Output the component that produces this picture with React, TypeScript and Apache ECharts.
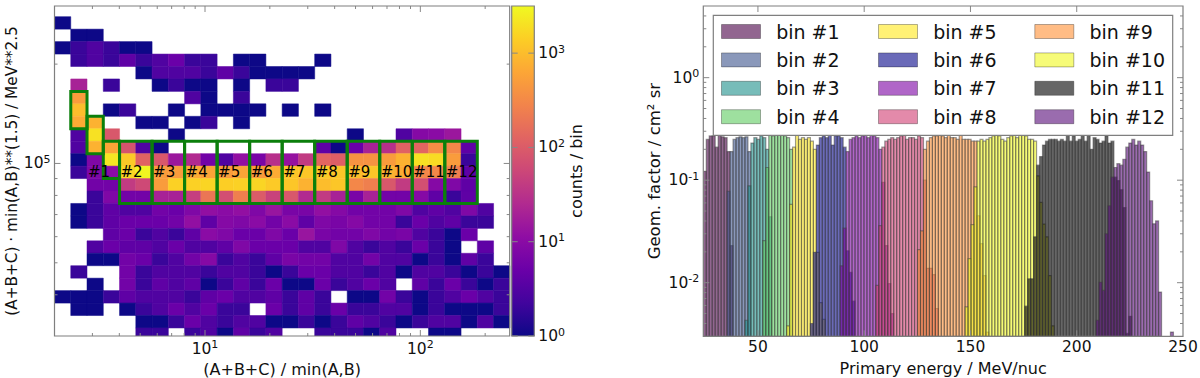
import React, { useEffect, useRef } from "react";
import * as echarts from "echarts";

// ---------- left panel: 2-D histogram counts (row = top to bottom, column = left to right) ----------
const r1 = [1,0,0,0,0,0,0,0,0,0,0,0,0,0,0,0,0,0,0,0,0,0,0,0,0,0,0,0];
const r2 = [0,1,1,0,0,0,0,0,0,0,0,0,0,0,0,0,0,0,0,0,0,0,0,0,0,0,0,0];
const r3 = [1,2,3,2,1,1,0,0,0,0,0,0,0,0,0,0,0,0,0,0,0,0,0,0,0,0,0,0];
const r4 = [0,2,3,2,4,2,3,5,2,2,0,1,1,0,0,0,1,0,0,0,0,0,0,0,0,0,0,0];
const r5 = [0,0,0,0,0,1,3,3,3,2,4,2,1,1,1,1,0,0,0,0,0,0,0,0,0,0,0,0];
const r6 = [0,20,0,2,0,0,1,2,1,1,0,1,0,2,2,0,0,0,0,0,0,0,0,0,0,0,0,0];
const r7 = [0,500,0,0,0,0,0,0,3,1,0,2,0,0,0,0,0,0,0,0,0,0,0,0,0,0,0,0];
const r8 = [0,1000,0,1,2,0,0,1,0,1,1,1,1,0,1,0,1,0,0,0,0,0,0,0,0,0,0,0];
const r9 = [0,700,800,0,0,1,1,0,1,2,0,1,0,0,0,0,0,0,0,0,0,0,0,0,0,0,0,0];
const r10 = [0,3,2000,90,0,0,0,1,0,0,0,0,0,0,0,0,0,0,1,0,0,3,9,10,15,0,0,0];
const r11 = [0,3,800,600,80,3,1,0,0,0,0,0,0,0,0,0,4,1,5,20,30,120,130,350,300,4,0,0];
const r12 = [0,1,8,2200,1300,120,90,15,25,6,3,12,7,30,13,40,130,110,400,400,500,800,2000,1800,500,2,0,0];
const r13 = [0,2,8,10,1600,3000,500,500,700,600,500,600,500,700,1200,1200,1300,1200,1000,1200,800,700,300,300,250,4,0,0];
const r14 = [0,0,6,6,40,60,500,1500,1500,1600,1400,1500,1600,1300,1200,800,1000,1200,300,250,90,40,70,9,8,4,0,0];
const r15 = [0,0,2,8,6,6,20,20,45,200,70,250,100,50,90,25,40,20,7,20,6,6,9,4,2,4,0,0];
const r16 = [0,1,2,4,3,3,6,5,8,12,10,12,8,14,7,7,12,9,6,6,6,8,3,4,3,8,3,0];
const r17 = [0,1,2,4,5,5,5,6,12,4,9,8,10,6,10,4,8,7,9,6,6,2,5,3,4,2,2,0];
const r18 = [0,0,0,4,5,2,3,2,4,10,8,5,5,8,5,14,7,6,6,8,6,7,3,2,1,5,0,0];
const r19 = [0,0,3,5,4,4,3,5,3,3,4,8,5,5,5,3,3,8,3,2,3,2,5,2,1,0,4,0];
const r20 = [0,0,1,1,6,5,2,3,6,9,2,3,2,4,7,6,6,3,3,6,3,3,1,2,1,4,2,0];
const r21 = [0,2,0,0,6,2,3,3,3,2,3,3,2,1,2,5,5,3,3,2,3,1,3,3,2,1,2,1];
const r22 = [0,0,1,0,6,2,4,3,4,1,2,4,2,5,1,1,5,2,3,5,3,0,4,2,5,2,1,2];
const r23 = [1,1,1,2,4,3,3,3,2,4,5,3,3,4,2,4,2,0,1,1,6,2,1,2,3,5,3,2];
const r24 = [0,1,1,0,1,2,3,5,3,5,2,2,0,5,2,4,2,5,2,2,3,3,1,2,1,1,1,2];
const r25 = [0,0,0,0,0,1,1,2,5,3,2,3,3,1,1,2,1,2,4,3,2,1,2,3,3,1,3,1];
const r26 = [0,0,0,0,0,2,2,0,2,3,1,4,2,3,0,0,2,2,2,1,3,0,0,1,1,0,0,0];
const countRows = [r1,r2,r3,r4,r5,r6,r7,r8,r9,r10,r11,r12,r13,r14,r15,r16,r17,r18,r19,r20,r21,r22,r23,r24,r25,r26];

// Selection boxes in histogram bin indices: [firstCol, lastColExclusive, firstRow, lastRowExclusive]
const boxes = [
  [1,2,6,9],[2,3,8,11],[3,4,10,13],
  [4,6,10,15],[6,8,10,15],[8,10,10,15],[10,12,10,15],[12,14,10,15],[14,16,10,15],
  [16,18,10,15],[18,20,10,15],[20,22,10,15],[22,24,10,15],[24,26,10,15],
];
const boxLabels = ["#1","#2","#3","#4","#5","#6","#7","#8","#9","#10","#11","#12"];
const boxLabelCols = [2,4,6,8,10,12,14,16,18,20,22,24];

// ---------- right panel: geometric factor per energy bin ----------
const bin1 = [.122,.25,.27,.27,.21,.285,.265,.26,.19,.023];
const bin2 = [.078,.19,.25,.26,.265,.26,.265,.19];
const bin3 = [.0043,.088,.23,.26,.25,.27,.26,.2,.044];
const bin4 = [.0257,.133,.28,.27,.29,.28,.29,.27,.26,.2];
const bin5 = [.0038,.058,.21,.29,.25,.26,.25,.26,.24,.2,.0198,.0064,.0044];
const bin6 = [.004,.0198,.22,.26,.27,.26,.28,.22,.27,.27,.26,.21,.0205,.0126,.0066];
const bin7 = [.0146,.034,.19,.25,.26,.27,.26,.27,.28,.26,.28,.27,.26,.2,.095,.023,.0098,.005];
const bin8 = [.0094,.036,.21,.24,.25,.26,.25,.26,.27,.29,.25,.26,.26,.25,.27,.26,.1,.0138,.0138,.012,.0056];
const bin9 = [.021,.032,.2,.24,.26,.27,.27,.28,.27,.26,.30,.26,.26,.25,.3,.25,.25,.25,.24,.24,.045,.024,.0117,.0033];
const bin10 = [.0058,.0172,.0368,.086,.24,.25,.24,.25,.26,.27,.31,.27,.25,.24,.26,.27,.28,.26,.3,.28,.27,.25,.25,.24,.11,.0607,.0373,.028,.0117,.0038];
const bin11 = [.0059,.0109,.0109,.028,.14,.17,.22,.24,.25,.25,.25,.24,.25,.24,.28,.24,.27,.24,.25,.28,.24,.28,.2,.26,.25,.23,.24,.27,.23,.24,.107,.099,.0808,.054,.0032,.0047];
const bin12 = [.0043,.0101,.0084,.03,.0563,.107,.133,.145,.14,.16,.21,.23,.25,.22,.24,.22,.19,.12,.063,.0375,.04,.0081,0,0,0,.0033];
const binValues = [bin1,bin2,bin3,bin4,bin5,bin6,bin7,bin8,bin9,bin10,bin11,bin12];
const binFirstIndex = [0,8,14,20,28,36,46,58,72,88,108,132];
const binNames = ["bin #1","bin #2","bin #3","bin #4","bin #5","bin #6","bin #7","bin #8","bin #9","bin #10","bin #11","bin #12"];
const binColors = [
  "rgba(73,0,70,.6)","rgba(60,83,140,.6)","rgba(28,143,138,.6)","rgba(93,203,95,.6)",
  "rgba(255,232,25,.6)","rgba(7,7,137,.6)","rgba(123,0,163,.6)","rgba(208,60,113,.6)",
  "rgba(255,143,52,.6)","rgba(240,248,30,.6)","rgba(0,0,0,.6)","rgba(87,10,120,.6)",
];

const plasma = ["#0d0887","#41049d","#6a00a8","#8f0da4","#b12a90","#cc4778","#e16462","#f2844b","#fca636","#fcce25","#f0f921"];

// Axis extents and binning
const X_MIN = 2, X_MAX = 260, Y_MIN = 30000, Y_MAX = 300000;
const XLOG0 = Math.log10(X_MIN), XLOG_STEP = 0.07552;
const YLOG_TOP_EDGE = 5.4447, YLOG_STEP = 0.03773;
const CB_MAX = 3162;
const E_MIN = 24.3, E_MAX = 250, E_STEP = 1.4;
const G_MIN = 0.003, G_MAX = 5;
const LABEL_Y = 10 ** 4.975;

const leftXMinor = [3,4,5,6,7,8,9,20,30,40,50,60,70,80,90,200];
const leftXMajor = [10,100];
const leftYMinor = [40000,50000,60000,70000,80000,90000,200000];
const leftYMajor = [100000];
const cbMajor = [1,10,100,1000];
const rightXMajor = [50,100,150,200];
const rightYMajor = [1,0.1,0.01];
const rightYMinor = [4,3,2,0.9,0.8,0.7,0.6,0.5,0.4,0.3,0.2,0.09,0.08,0.07,0.06,0.05,0.04,0.03,0.02,0.009,0.008,0.007,0.006,0.005,0.004];

const FONT = '"DejaVu Sans"';
const INK = "#111";
const FRAME = "#7f7f7f";

const xEdge = (k: number) => 10 ** (XLOG0 + k * XLOG_STEP);
const yEdge = (k: number) => Math.min(10 ** (YLOG_TOP_EDGE - k * YLOG_STEP), Y_MAX);
const yEdgeClamp = (k: number) => Math.max(yEdge(k), Y_MIN);

const pow10Label = (v: number) => {
  const l = Math.log10(v);
  const r = Math.round(l);
  if (Math.abs(l - r) > 1e-6) return "";
  return `{b|10}{s|${r}}`;
};
const powRich = {
  b: { fontFamily: '"DejaVu Sans"', fontSize: 15.5, color: "#111" },
  s: { fontFamily: '"DejaVu Sans"', fontSize: 11, color: "#111", padding: [0, 0, 8, 0] },
};

const makeRectItem = (p0: number[], p1: number[], style: any) => ({
  type: "rect",
  shape: { x: Math.min(p0[0], p1[0]), y: Math.min(p0[1], p1[1]), width: Math.abs(p1[0] - p0[0]), height: Math.abs(p1[1] - p0[1]) },
  style,
});

function tickSeries(gridIndex: number, ref: [number, number], xMajor: number[], xMinor: number[], yMajor: number[], yMinor: number[]) {
  const data: number[][] = [];
  xMajor.forEach((v) => data.push([v, ref[1], 0, 6]));
  xMinor.forEach((v) => data.push([v, ref[1], 0, 3]));
  yMajor.forEach((v) => data.push([ref[0], v, 1, 6]));
  yMinor.forEach((v) => data.push([ref[0], v, 1, 3]));
  return {
    type: "custom", xAxisIndex: gridIndex, yAxisIndex: gridIndex, z: 6, silent: true, clip: false,
    encode: { x: 0, y: 1 }, data,
    renderItem: (params: any, api: any) => {
      const cs = params.coordSys;
      const p = api.coord([api.value(0), api.value(1)]);
      const kind = api.value(2), len = api.value(3);
      const lines = kind === 0
        ? [[p[0], cs.y + cs.height, p[0], cs.y + cs.height - len], [p[0], cs.y, p[0], cs.y + len]]
        : [[cs.x, p[1], cs.x + len, p[1]], [cs.x + cs.width, p[1], cs.x + cs.width - len, p[1]]];
      return {
        type: "group",
        children: lines.map((l) => ({
          type: "line", shape: { x1: l[0], y1: l[1], x2: l[2], y2: l[3] },
          style: { stroke: "#888", lineWidth: 1 },
        })),
      };
    },
  };
}

const axisBase = {
  axisLine: { show: false }, axisTick: { show: false }, splitLine: { show: false }, minorTick: { show: false },
  nameLocation: "middle" as const,
};
const nameStyle = (fontSize: number) => ({ fontFamily: FONT, fontSize, color: INK });
const tickLabel = { fontFamily: FONT, fontSize: 15.5, color: INK };

export default function App() {
  const ref = useRef<HTMLDivElement>(null);
  useEffect(() => {
    const chart = echarts.init(ref.current!, undefined, { renderer: "svg" });

    const cells: number[][] = [];
    countRows.forEach((row, r) => row.forEach((n, c) => {
      if (n > 0) cells.push([xEdge(c), yEdgeClamp(r), xEdge(c + 1), yEdgeClamp(r + 1), n]);
    }));

    const heatSeries = {
      type: "custom", xAxisIndex: 0, yAxisIndex: 0, z: 2, silent: true, clip: true,
      encode: { x: [0, 2], y: [1, 3] }, data: cells,
      renderItem: (_: any, api: any) => {
        const p0 = api.coord([api.value(0), api.value(1)]);
        const p1 = api.coord([api.value(2), api.value(3)]);
        const fill = echarts.color.lerp(Math.log10(api.value(4)) / 3.5, plasma);
        return makeRectItem(p0, p1, { fill, stroke: fill, lineWidth: 0.5 });
      },
    };

    const boxSeries = {
      type: "custom", xAxisIndex: 0, yAxisIndex: 0, z: 3, silent: true, clip: false,
      encode: { x: [0, 2], y: [1, 3] },
      data: boxes.map((b) => [xEdge(b[0]), yEdge(b[2]), xEdge(b[1]), yEdge(b[3])]),
      renderItem: (_: any, api: any) => makeRectItem(
        api.coord([api.value(0), api.value(1)]),
        api.coord([api.value(2), api.value(3)]),
        { fill: "none", stroke: "#0b7f0b", lineWidth: 3 },
      ),
    };

    const labelSeries = {
      type: "custom", xAxisIndex: 0, yAxisIndex: 0, z: 4, silent: true, clip: false,
      encode: { x: 0, y: 1 },
      data: boxLabelCols.map((c) => [xEdge(c), LABEL_Y]),
      renderItem: (params: any, api: any) => {
        const p = api.coord([api.value(0), api.value(1)]);
        return {
          type: "text",
          style: {
            x: p[0] + 1, y: p[1], text: boxLabels[params.dataIndex], fill: "#000",
            font: `15px ${FONT}`, textAlign: "left", textVerticalAlign: "middle",
          },
        };
      },
    };

    const colorbar = {
      type: "custom", xAxisIndex: 1, yAxisIndex: 1, z: 2, silent: true, clip: false,
      encode: { x: [0, 2], y: [1, 3] }, data: [[0, 1, 1, CB_MAX]],
      renderItem: (_: any, api: any) => makeRectItem(
        api.coord([api.value(0), api.value(1)]),
        api.coord([api.value(2), api.value(3)]),
        {
          fill: new echarts.graphic.LinearGradient(0, 1, 0, 0,
            plasma.map((color, i) => ({ offset: i / (plasma.length - 1), color }))),
        },
      ),
    };

    const barSeries = binValues.map((vals, i) => ({
      name: binNames[i],
      type: "custom", xAxisIndex: 2, yAxisIndex: 2, z: 2, silent: true, clip: true,
      itemStyle: { color: binColors[i] },
      encode: { x: [0, 2], y: 1 },
      data: vals
        .map((v, j) => [E_MIN + (binFirstIndex[i] + j) * E_STEP, v, E_MIN + (binFirstIndex[i] + j + 1) * E_STEP])
        .filter((d) => d[1] > 0),
      renderItem: (params: any, api: any) => {
        const cs = params.coordSys;
        const p0 = api.coord([api.value(0), api.value(1)]);
        const p1x = api.coord([api.value(2), api.value(1)])[0];
        return makeRectItem(p0, [p1x, cs.y + cs.height], { fill: binColors[i], stroke: "rgba(60,60,60,.5)", lineWidth: 1.2 });
      },
    }));

    const legendColumn = (names: string[], colors: string[], left: number) => ({
      show: true, orient: "vertical" as const, left, top: 22, padding: 0,
      itemWidth: 39, itemHeight: 14, itemGap: 9.4, selectedMode: false, icon: "rect",
      textStyle: { fontFamily: FONT, fontSize: 19, color: INK, padding: [0, 0, 0, 10.7] },
      data: names.map((name, i) => ({
        name, icon: "rect",
        itemStyle: { color: colors[i], borderColor: "rgba(0,0,0,.3)", borderWidth: 1 },
      })),
    });

    chart.setOption({
      animation: false,
      backgroundColor: "#fff",
      grid: [
        { left: 54.5, top: 6, width: 455.2, height: 330, containLabel: false, outerBoundsMode: "none" },
        { left: 511.7, top: 6, width: 22.6, height: 330, containLabel: false, outerBoundsMode: "none" },
        { left: 703.3, top: 6, width: 479.7, height: 330.3, containLabel: false, outerBoundsMode: "none" },
      ],
      xAxis: [
        { ...axisBase, type: "log", logBase: 10, gridIndex: 0, min: X_MIN, max: X_MAX, name: "(A+B+C) / min(A,B)", nameGap: 21, nameTextStyle: nameStyle(16),
          axisLabel: { ...tickLabel, formatter: pow10Label, rich: powRich, margin: 3, showMinLabel: false, showMaxLabel: false } },
        { ...axisBase, type: "value", gridIndex: 1, min: 0, max: 1, show: false },
        { ...axisBase, type: "value", gridIndex: 2, min: E_MIN, max: E_MAX, name: "Primary energy / MeV/nuc", nameGap: 21, nameTextStyle: nameStyle(16),
          axisLabel: { ...tickLabel, margin: 3, formatter: (v: number) => (v % 50 === 0 ? String(v) : ""), showMinLabel: false } },
      ],
      yAxis: [
        { ...axisBase, type: "log", logBase: 10, gridIndex: 0, min: Y_MIN, max: Y_MAX, name: "(A+B+C) · min(A,B)**(1.5) / MeV**2.5", nameGap: 35, nameTextStyle: nameStyle(15.3),
          axisLabel: { ...tickLabel, formatter: pow10Label, rich: powRich, margin: 4, showMinLabel: false, showMaxLabel: false } },
        { ...axisBase, type: "log", logBase: 10, gridIndex: 1, position: "right", min: 1, max: CB_MAX, name: "counts / bin", nameGap: 34, nameRotate: 90, nameTextStyle: nameStyle(16),
          axisLabel: { ...tickLabel, formatter: pow10Label, rich: powRich, margin: 4, showMaxLabel: false } },
        { ...axisBase, type: "log", logBase: 10, gridIndex: 2, min: G_MIN, max: G_MAX, name: "Geom. factor / cm² sr", nameGap: 40, nameTextStyle: nameStyle(16.5),
          axisLabel: { ...tickLabel, formatter: pow10Label, rich: powRich, margin: 4, showMinLabel: false, showMaxLabel: false } },
      ],
      legend: [
        legendColumn(binNames.slice(0, 4), binColors.slice(0, 4), 721),
        legendColumn(binNames.slice(4, 8), binColors.slice(4, 8), 878),
        legendColumn(binNames.slice(8, 12), binColors.slice(8, 12), 1034.3),
      ],
      graphic: {
        elements: [
          { type: "rect", silent: true, z: 3, shape: { x: 713.3, y: 15.3, width: 459.4, height: 120 }, style: { fill: "#fff", stroke: FRAME, lineWidth: 1.2 } },
          { type: "rect", silent: true, z: 7, shape: { x: 54.5, y: 6, width: 455.2, height: 330 }, style: { fill: "none", stroke: FRAME, lineWidth: 1.2 } },
          { type: "rect", silent: true, z: 7, shape: { x: 511.7, y: 6, width: 22.6, height: 330 }, style: { fill: "none", stroke: FRAME, lineWidth: 1.2 } },
          { type: "rect", silent: true, z: 7, shape: { x: 703.3, y: 6, width: 479.7, height: 330.3 }, style: { fill: "none", stroke: FRAME, lineWidth: 1.2 } },
        ],
      },
      series: [
        heatSeries, boxSeries, labelSeries, colorbar, ...barSeries,
        tickSeries(0, [X_MIN, Y_MIN], leftXMajor, leftXMinor, leftYMajor, leftYMinor),
        tickSeries(1, [0, 1], [], [], cbMajor, []),
        tickSeries(2, [E_MIN, G_MIN], rightXMajor, [], rightYMajor, rightYMinor),
      ],
    });
    return () => chart.dispose();
  }, []);
  return <div ref={ref} style={{ position: "fixed", left: 0, top: 0, width: 1200, height: 378, background: "#fff" }} />;
}
